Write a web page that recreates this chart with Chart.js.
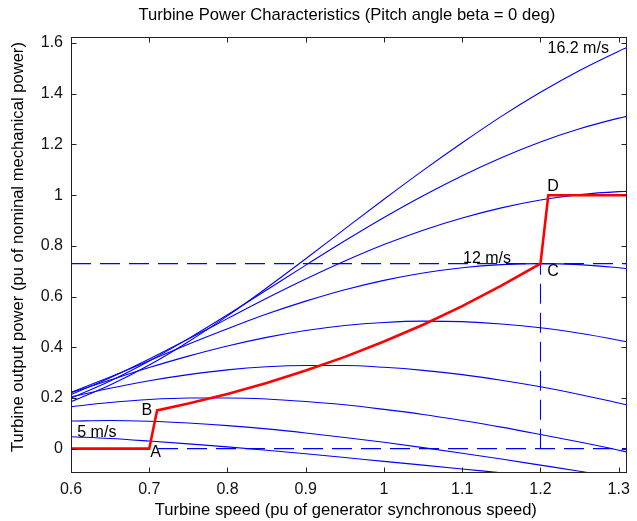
<!DOCTYPE html>
<html>
<head>
<meta charset="utf-8">
<title>Turbine Power Characteristics</title>
<script src="https://cdn.jsdelivr.net/npm/chart.js@4.4.1/dist/chart.umd.min.js"></script>
<style>
  html, body { margin: 0; padding: 0; background: #fff; }
  #wrap { width: 637px; height: 521px; }
</style>
</head>
<body>
<div id="wrap"><canvas id="powerChart" width="637" height="521"></canvas></div>
<script>
// turbine speed samples (pu of generator synchronous speed)
const speedPu = [0.6, 0.65, 0.7, 0.75, 0.8, 0.85, 0.9, 0.95, 1.0, 1.05, 1.1, 1.15, 1.2, 1.25, 1.3, 1.31];

// output power (pu) per wind speed
const windSpeeds = ['5 m/s', '6.4 m/s', '7.8 m/s', '9.2 m/s', '10.6 m/s', '12 m/s', '13.4 m/s', '14.8 m/s', '16.2 m/s'];
const pw5    = [0.047, 0.040, 0.030, 0.019, 0.007, -0.006, -0.020, -0.035, -0.050, -0.065, -0.080, -0.095, -0.110];
const pw6_4  = [0.109, 0.111, 0.108, 0.101, 0.091, 0.078, 0.062, 0.044, 0.025, 0.004, -0.018, -0.041, -0.065, -0.089, -0.114];
const pw7_8  = [0.166, 0.182, 0.194, 0.200, 0.200, 0.196, 0.186, 0.173, 0.155, 0.135, 0.111, 0.085, 0.056, 0.026, -0.006, -0.013];
const pw9_2  = [0.204, 0.238, 0.268, 0.292, 0.311, 0.323, 0.328, 0.328, 0.321, 0.309, 0.292, 0.270, 0.244, 0.214, 0.180, 0.173];
const pw10_6 = [0.221, 0.271, 0.320, 0.365, 0.405, 0.439, 0.466, 0.486, 0.498, 0.503, 0.501, 0.492, 0.477, 0.455, 0.428, 0.422];
const pw12   = [0.222, 0.283, 0.347, 0.412, 0.473, 0.531, 0.582, 0.627, 0.664, 0.693, 0.714, 0.726, 0.730, 0.726, 0.714, 0.711];
const pw13_4 = [0.213, 0.280, 0.354, 0.433, 0.513, 0.593, 0.669, 0.740, 0.805, 0.862, 0.910, 0.950, 0.981, 1.002, 1.014, 1.015];
const pw14_8 = [0.199, 0.267, 0.346, 0.434, 0.528, 0.626, 0.724, 0.820, 0.912, 0.998, 1.077, 1.148, 1.210, 1.262, 1.304, 1.311];
const pw16_2 = [0.185, 0.251, 0.330, 0.422, 0.524, 0.634, 0.749, 0.867, 0.984, 1.098, 1.207, 1.311, 1.406, 1.492, 1.568, 1.582];
const powerCurves = [pw5, pw6_4, pw7_8, pw9_2, pw10_6, pw12, pw13_4, pw14_8, pw16_2];

// tracking characteristic A-B-C-D
const trackX = [0.6, 0.7, 0.71, 0.75, 0.8, 0.85, 0.9, 0.95, 1.0, 1.05, 1.1, 1.15, 1.2, 1.21, 1.31];
const trackY = [0, 0, 0.151, 0.178, 0.216, 0.259, 0.308, 0.362, 0.4225, 0.489, 0.562, 0.643, 0.73, 1.0, 1.0];

// dashed reference lines
const refPowerX = [0.6, 1.31];
const refPowerY = [0.73, 0.73];
const zeroX = [0.6, 1.31];
const zeroY = [0, 0];
const refSpeedX = [1.2, 1.2];
const refSpeedY = [0, 0.73];

// axes
const xTicks = [0.6, 0.7, 0.8, 0.9, 1.0, 1.1, 1.2, 1.3];
const yTicks = [0, 0.2, 0.4, 0.6, 0.8, 1.0, 1.2, 1.4, 1.6];
const xRange = [0.6, 1.31];
const yRange = [-0.096, 1.624];

// texts
const chartTitle = 'Turbine Power Characteristics (Pitch angle beta = 0 deg)';
const xTitle = 'Turbine speed (pu of generator synchronous speed)';
const yTitle = 'Turbine output power (pu of nominal mechanical power)';
const noteText = ['16.2 m/s', '12 m/s', '5 m/s', 'A', 'B', 'C', 'D'];
const noteX = [1.209, 1.101, 0.608, 0.708, 0.697, 1.216, 1.216];
const noteY = [1.58, 0.748, 0.063, -0.016, 0.150, 0.697, 1.032];

const FONT = '"Liberation Sans", Arial, Helvetica, sans-serif';
const BLUE = '#0000ff';
const RED = '#ff0000';
const AXIS = '#222';

function pts(xs, ys) {
    const out = [];
    for (let i = 0; i < ys.length; i++) {
        if (ys[i] !== null && ys[i] !== undefined) out.push({ x: xs[i], y: ys[i] });
    }
    return out;
}

const fmt = v => String(+v.toFixed(1));

// box with inward ticks, like the matlab axes
const framePlugin = {
    id: 'frame',
    afterDatasetsDraw(c) {
        const { ctx, chartArea: a, scales } = c;
        const L = Math.round(a.left) + 0.5, R = Math.round(a.right) - 0.5;
        const T = Math.round(a.top) + 0.5, B = Math.round(a.bottom) - 0.5;
        ctx.save();
        ctx.strokeStyle = AXIS;
        ctx.lineWidth = 1;
        ctx.strokeRect(L, T, R - L, B - T);
        ctx.beginPath();
        xTicks.forEach(v => {
            const px = Math.round(scales.x.getPixelForValue(v)) + 0.5;
            ctx.moveTo(px, B); ctx.lineTo(px, B - 5);
            ctx.moveTo(px, T); ctx.lineTo(px, T + 5);
        });
        yTicks.forEach(v => {
            const py = Math.round(scales.y.getPixelForValue(v)) + 0.5;
            ctx.moveTo(L, py); ctx.lineTo(L + 5, py);
            ctx.moveTo(R, py); ctx.lineTo(R - 5, py);
        });
        ctx.stroke();
        ctx.restore();
    }
};

const textPlugin = {
    id: 'texts',
    afterDraw(c) {
        const { ctx, chartArea: a, scales } = c;
        const midX = (a.left + a.right) / 2;
        const midY = (a.top + a.bottom) / 2;
        ctx.save();
        ctx.fillStyle = '#000';
        ctx.textBaseline = 'middle';

        // titles a touch bigger than the tick labels
        ctx.font = '16.6px ' + FONT;
        ctx.textAlign = 'center';
        ctx.fillText(chartTitle, midX - 2, 15);
        ctx.fillText(xTitle, midX - 3, 510);

        ctx.save();
        ctx.translate(18, midY - 8);
        ctx.rotate(-Math.PI / 2);
        ctx.fillText(yTitle, 0, 0);
        ctx.restore();

        ctx.font = '16px ' + FONT;
        const align = ['left', 'left', 'left', 'center', 'center', 'center', 'center'];
        noteText.forEach((t, i) => {
            ctx.textAlign = align[i];
            ctx.fillText(t, scales.x.getPixelForValue(noteX[i]), scales.y.getPixelForValue(noteY[i]));
        });
        ctx.restore();
    }
};

const datasets = [];
datasets.push({
    label: 'tracking',
    data: pts(trackX, trackY),
    borderColor: RED,
    borderWidth: 2.6,
    pointRadius: 0,
    tension: 0,
    borderJoinStyle: 'miter'
});
powerCurves.forEach((ys, i) => {
    datasets.push({
        label: windSpeeds[i],
        data: pts(speedPu, ys),
        borderColor: BLUE,
        borderWidth: 1.1,
        pointRadius: 0,
        cubicInterpolationMode: 'monotone'
    });
});
[[refPowerX, refPowerY], [zeroX, zeroY], [refSpeedX, refSpeedY]].forEach(([xs, ys], i) => {
    datasets.push({
        label: 'ref' + i,
        data: pts(xs, ys),
        borderColor: BLUE,
        borderWidth: 1.1,
        borderDash: [20, 9],
        pointRadius: 0,
        tension: 0
    });
});

const chart = new Chart(document.getElementById('powerChart').getContext('2d'), {
    type: 'line',
    data: { datasets },
    options: {
        responsive: false,
        animation: false,
        devicePixelRatio: 1,
        layout: { padding: { top: 37, right: 10, left: 0, bottom: 0 } },
        plugins: {
            legend: { display: false },
            tooltip: { enabled: false },
            title: { display: false }
        },
        scales: {
            x: {
                type: 'linear',
                min: xRange[0],
                max: xRange[1],
                grid: { display: false, drawTicks: false },
                border: { display: false },
                ticks: {
                    color: '#111',
                    padding: 7,
                    maxRotation: 0,
                    font: { family: FONT, size: 16 },
                    callback: fmt
                },
                afterBuildTicks: s => { s.ticks = xTicks.map(v => ({ value: v })); },
                afterFit: s => { s.height = 48; }
            },
            y: {
                type: 'linear',
                min: yRange[0],
                max: yRange[1],
                grid: { display: false, drawTicks: false },
                border: { display: false },
                ticks: {
                    color: '#111',
                    padding: 8,
                    font: { family: FONT, size: 16 },
                    callback: fmt
                },
                afterBuildTicks: s => { s.ticks = yTicks.map(v => ({ value: v })); },
                afterFit: s => { s.width = 71; }
            }
        }
    },
    plugins: [framePlugin, textPlugin]
});
</script>
</body>
</html>
